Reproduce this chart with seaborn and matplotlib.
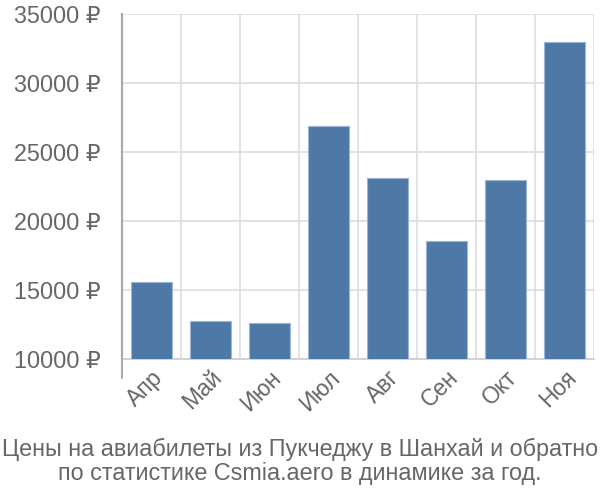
import matplotlib
matplotlib.use("Agg")
import matplotlib.pyplot as plt
import seaborn as sns
import pandas as pd
import numpy as np

months = ["Апр", "Май", "Июн", "Июл", "Авг", "Сен", "Окт", "Ноя"]
prices = [15600, 12720, 12630, 26900, 23100, 18570, 23000, 33000]
yticks = [10000, 15000, 20000, 25000, 30000, 35000]
ytick_labels = [f"{v} ₽" for v in yticks]
title = "Цены на авиабилеты из Пукчеджу в Шанхай и обратно\nпо статистике Csmia.aero в динамике за год."

sns.set_theme(style="white")
plt.rcParams['font.family'] = ['Liberation Sans', 'DejaVu Sans']

df = pd.DataFrame({"month": months, "price": prices})

fig = plt.figure(figsize=(6, 5), dpi=100)
ax = fig.add_axes([122/600, 1-359/500, (594-122)/600, (359-14)/500])

sns.barplot(data=df, x="month", y="price", ax=ax, color="#4e79a7",
            saturation=1, width=0.71, edgecolor="#9ab5d6", linewidth=0.8, zorder=3)

ax.set_ylim(10000, 35000)
ax.set_xlim(-0.5, len(months) - 0.5)
ax.set_yticks(yticks)
ax.set_yticklabels(ytick_labels)
ax.set_xlabel("")
ax.set_ylabel("")

grid_c = "#dddddd"
text_c = "#666666"
ax.yaxis.grid(True, color=grid_c, linewidth=1.2, zorder=0)
ax.set_xticks(np.arange(-0.5, len(months)), minor=True)
ax.xaxis.grid(True, which="minor", color=grid_c, linewidth=1.2, zorder=0)
ax.xaxis.grid(False, which="major")
ax.tick_params(axis="x", which="minor", length=14, color=grid_c, width=1.2)
ax.tick_params(axis="x", which="major", length=0, pad=5)
ax.tick_params(axis="y", which="major", length=14.5, color=grid_c, width=1.2, pad=1,
               labelsize=16.8, labelcolor=text_c)
ax.tick_params(axis="x", labelsize=16.5, labelcolor=text_c)
for lbl in ax.get_xticklabels():
    lbl.set_rotation(45)
    lbl.set_ha("right")
    lbl.set_va("top")
    lbl.set_rotation_mode("anchor")

for s in ["top", "right"]:
    ax.spines[s].set_visible(False)
ax.spines["bottom"].set_color("#cccccc")
ax.spines["bottom"].set_linewidth(1.2)
ax.spines["left"].set_color("#aaaaaa")
ax.spines["left"].set_linewidth(1.5)
ax.axvline(-0.5, ymin=-0.055, ymax=1, color="#aaaaaa", linewidth=1.5, clip_on=False, zorder=4)

fig.text(0.5, 1 - 461.5/500, title, ha="center", va="center", fontsize=16.8,
         color=text_c, linespacing=1.1)

fig.savefig("out.png", dpi=100)
